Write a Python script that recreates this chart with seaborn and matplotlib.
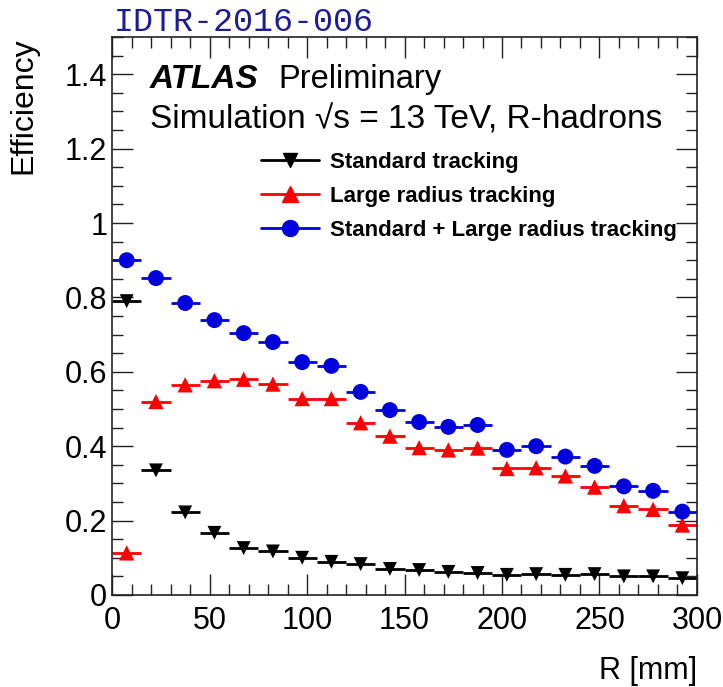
import numpy as np
import pandas as pd
import matplotlib
matplotlib.use("Agg")
import matplotlib.pyplot as plt
from matplotlib.lines import Line2D
from matplotlib.ticker import MultipleLocator
import seaborn as sns

# ---- data ----
bin_width = 15.0
r_centers = [7.5 + 15 * i for i in range(20)]
std_eff = [0.79, 0.335, 0.222, 0.167, 0.126, 0.117, 0.100, 0.089, 0.083, 0.070,
           0.067, 0.062, 0.059, 0.054, 0.056, 0.054, 0.056, 0.050, 0.050, 0.045]
lrt_eff = [0.113, 0.520, 0.565, 0.576, 0.580, 0.567, 0.528, 0.528, 0.463, 0.427,
           0.396, 0.390, 0.395, 0.340, 0.342, 0.320, 0.290, 0.240, 0.230, 0.188]
comb_eff = [0.900, 0.852, 0.785, 0.739, 0.704, 0.680, 0.626, 0.616, 0.546, 0.497,
            0.465, 0.452, 0.457, 0.390, 0.400, 0.372, 0.347, 0.292, 0.280, 0.224]
series_names = ["Standard tracking", "Large radius tracking",
                "Standard + Large radius tracking"]

sns.set_theme(style="ticks")
plt.rcParams['font.family'] = ['Liberation Sans', 'DejaVu Sans']
for k in ['text.color', 'axes.labelcolor', 'xtick.color', 'ytick.color', 'axes.edgecolor']:
    plt.rcParams[k] = 'black'

df = pd.DataFrame({
    "R": r_centers * 3,
    "eff": std_eff + lrt_eff + comb_eff,
    "series": [series_names[0]] * 20 + [series_names[1]] * 20 + [series_names[2]] * 20,
})

colors = {series_names[0]: "black", series_names[1]: "#ff0000", series_names[2]: "#0000dd"}
markers = {series_names[0]: "v", series_names[1]: "^", series_names[2]: "o"}
sizes = {series_names[0]: 10, series_names[1]: 11, series_names[2]: 11.5}

fig = plt.figure(figsize=(7.23, 6.87), dpi=100)
ax = fig.add_axes([0.155, 0.134, 0.809, 0.812])

for name in series_names:
    sub = df[df.series == name]
    ax.errorbar(sub.R, sub.eff, xerr=bin_width / 2, fmt='none',
                ecolor=colors[name], elinewidth=2, capsize=0, zorder=2)
    sns.scatterplot(data=sub, x="R", y="eff", ax=ax, color=colors[name],
                    marker=markers[name], s=sizes[name] ** 2, edgecolor='none',
                    legend=False, zorder=3)

ax.set_xlim(0, 300)
ax.set_ylim(0, 1.5)
ax.set_xlabel("")
ax.set_ylabel("")
ax.xaxis.set_major_locator(MultipleLocator(50))
ax.xaxis.set_minor_locator(MultipleLocator(10))
ax.yaxis.set_minor_locator(MultipleLocator(0.05))
ax.set_yticks([0, 0.2, 0.4, 0.6, 0.8, 1.0, 1.2, 1.4])
ax.set_yticklabels(["0", "0.2", "0.4", "0.6", "0.8", "1", "1.2", "1.4"])
ax.tick_params(which='both', direction='in', top=True, right=True, labelsize=22,
               width=1, color='#222222')
ax.tick_params(which='major', length=15)
ax.tick_params(which='minor', length=8)
ax.tick_params(axis='x', pad=8)
for s in ax.spines.values():
    s.set_linewidth(1.2)
    s.set_color('#222222')

fig.text(0.964, 0.002, "R [mm]", ha='right', va='bottom', fontsize=22)
fig.text(0.012, 0.946, "Efficiency", ha='left', va='top', rotation=90, fontsize=23)
fig.text(0.158, 0.944, "IDTR-2016-006", ha='left', va='bottom', fontsize=24,
         color='#1c1c96', family='Liberation Mono', fontweight='light')

ax.text(0.065, 0.909, "ATLAS", transform=ax.transAxes, fontsize=24,
        fontweight='bold', style='italic', va='baseline')
ax.text(0.285, 0.909, "Preliminary", transform=ax.transAxes, fontsize=23.5,
        va='baseline')
ax.text(0.065, 0.837, "Simulation \u221as = 13 TeV, R-hadrons",
        transform=ax.transAxes, fontsize=24, va='baseline')

handles = [Line2D([0], [0], color=colors[n], marker=markers[n], linestyle='-',
                  linewidth=2, markersize=sizes[n]) for n in series_names]
leg = ax.legend(handles, series_names, loc='upper left',
                bbox_to_anchor=(0.22, 0.83), frameon=False,
                prop={'size': 16, 'weight': 'bold'}, handlelength=2.6,
                labelspacing=0.58, handletextpad=0.5)

fig.savefig("out.png", dpi=100)
